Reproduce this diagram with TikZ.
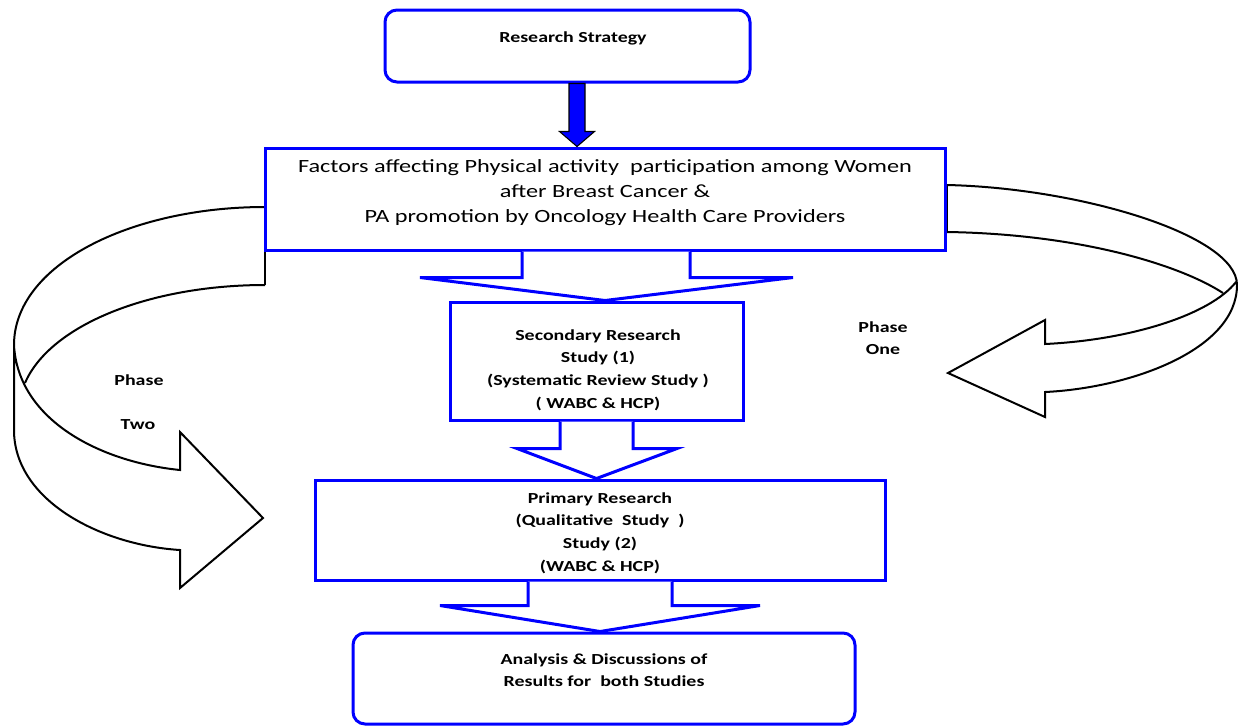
\documentclass[tikz,border=0pt]{standalone}
\usepackage{fontspec}
\setmainfont{Carlito}[FakeStretch=1.3]
\usetikzlibrary{calc}
\definecolor{pblue}{RGB}{0,0,255}
\tikzset{
  box/.style={draw=pblue, line width=2.25pt, fill=white, inner sep=0pt},
  rbox/.style={box, rounded corners=9pt},
  txt/.style={align=center, font=\bfseries\fontsize{11.5}{16.9}\selectfont, inner sep=0pt},
  bigtxt/.style={align=center, font=\fontsize{14}{18.75}\selectfont, inner sep=0pt},
  blockarrow/.style={draw=pblue, line width=2.25pt, fill=white},
  curved/.style={draw=black, line width=1.5pt},
  darkarrow/.style={draw=black, fill=pblue, line width=0.8pt},
}
\begin{document}
\begin{tikzpicture}[x=0.75pt,y=-0.75pt]
\useasboundingbox (0,0) rectangle (1238,726);

% curved arrows (drawn first)
\draw[curved] (265,207) .. controls (130,207) and (14,265) .. (14,345)
  -- (14,430) .. controls (14,500) and (100,545) .. (180,550)
  -- (180,588) -- (263,518) -- (180,432) -- (180,470)
  .. controls (100,462) and (18,420) .. (14,345);
\draw[curved] (265,285) .. controls (150,285) and (50,325) .. (25,383);
\draw[curved] (265,207) -- (265,285);

\draw[curved] (947,185) .. controls (1080,188) and (1237,235) .. (1237,285)
  .. controls (1237,350) and (1130,388) .. (1045,392)
  -- (1045,417) -- (948,373) -- (1045,320) -- (1045,344)
  .. controls (1130,340) and (1210,315) .. (1236,282);
\draw[curved] (947,232) .. controls (1080,234) and (1180,265) .. (1223,293);
\draw[curved] (947,185) -- (947,232);

% boxes
\node[rbox, minimum width={365*0.75pt}, minimum height={72*0.75pt}] (b1) at (567.5,46) {};
\node[box, minimum width={680*0.75pt}, minimum height={102*0.75pt}] (b2) at (605,199) {};
\node[box, minimum width={293*0.75pt}, minimum height={118*0.75pt}] (b3) at (596.5,361) {};
\node[box, minimum width={570*0.75pt}, minimum height={100*0.75pt}] (b4) at (600,530) {};
\node[rbox, minimum width={502*0.75pt}, minimum height={91*0.75pt}] (b5) at (604,678.5) {};

% texts
\node[txt] (t1) at (573,38) {Research Strategy};
\node[bigtxt] (t2) at (605,193) {Factors affecting Physical activity\ \ participation among Women\\after Breast Cancer \&\\PA promotion by Oncology Health Care Providers};
\node[txt] (t3) at (598,370) {Secondary Research\\Study (1)\\(Systematic Review Study )\\( WABC \& HCP)};
\node[txt] (t4) at (600,533) {Primary Research\\(Qualitative\ \ Study\ \ )\\Study (2)\\(WABC \& HCP)};
\node[txt] (t5) at (604,670) {Analysis \& Discussions of\\Results for\ \ both Studies};
\node[txt] (p2a) at (139,380) {Phase};
\node[txt] (p2b) at (138,425) {Two};
\node[txt] (p1a) at (883,327) {Phase};
\node[txt] (p1b) at (883,350) {One};

% dark arrow from b1 to b2
\coordinate (da) at ($(b1.south)+(9.5,0)$);
\draw[darkarrow] ($(b1.south)+(1.5,0)$) -- ($(b1.south)+(1.5,48)$) -- ($(b1.south)+(-8,48)$)
  -- (da |- b2.north) -- ($(b1.south)+(27,48)$) -- ($(b1.south)+(17.5,48)$)
  -- ($(b1.south)+(17.5,0)$) -- cycle;

% block arrows
\draw[blockarrow] ($(b2.south)+(-83,0)$) -- ($(b2.south)+(-83,26)$) -- ($(b2.south)+(-185,26)$)
  -- (b2.south |- b3.north) -- ($(b2.south)+(188,26)$) -- ($(b2.south)+(85,26)$) -- ($(b2.south)+(85,0)$);
\draw[blockarrow] ($(b3.south)+(-36.5,0)$) -- ($(b3.south)+(-36.5,27)$) -- ($(b3.south)+(-79.5,27)$)
  -- (b3.south |- b4.north) -- ($(b3.south)+(80.5,27)$) -- ($(b3.south)+(36.5,27)$) -- ($(b3.south)+(36.5,0)$);
\draw[blockarrow] ($(b4.south)+(-72,0)$) -- ($(b4.south)+(-72,24)$) -- ($(b4.south)+(-160,24)$)
  -- (b4.south |- b5.north) -- ($(b4.south)+(160,24)$) -- ($(b4.south)+(72,24)$) -- ($(b4.south)+(72,0)$);
\end{tikzpicture}
\end{document}
